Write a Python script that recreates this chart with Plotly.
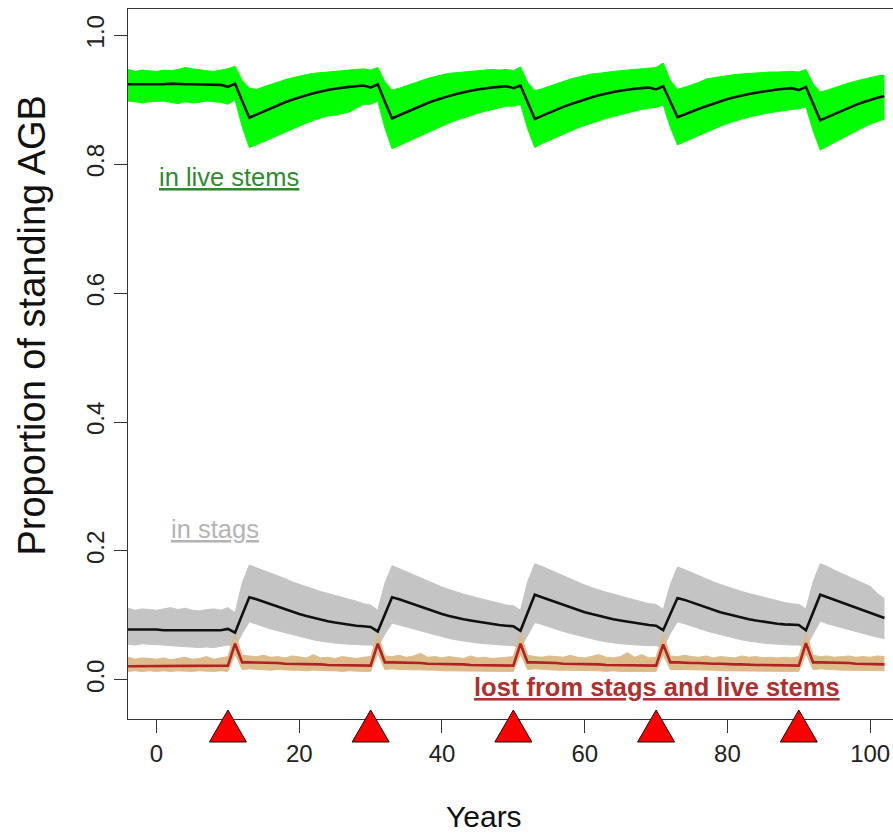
import plotly.graph_objects as go

# Simulation years (annual steps, including a short spin-up before year 0)
YEARS = list(range(-5, 103))

# Disturbance events (years)
EVENT_YEARS = [10, 30, 50, 70, 90]

# Share of standing AGB held in live stems: ensemble mean and ensemble envelope
LIVE_MEAN = [
    0.924, 0.924, 0.923, 0.924, 0.924,
    0.924, 0.924, 0.925, 0.924, 0.924, 0.924, 0.924, 0.924, 0.923, 0.923,
    0.920, 0.925, 0.898, 0.872, 0.877, 0.882, 0.887, 0.892, 0.896, 0.900,
    0.904, 0.907, 0.910, 0.913, 0.915, 0.917, 0.919, 0.920, 0.921, 0.922,
    0.919, 0.924, 0.897, 0.871, 0.876, 0.881, 0.886, 0.891, 0.895, 0.899,
    0.903, 0.906, 0.909, 0.912, 0.914, 0.916, 0.918, 0.919, 0.920, 0.921,
    0.918, 0.922, 0.896, 0.870, 0.875, 0.880, 0.885, 0.889, 0.893, 0.897,
    0.901, 0.904, 0.907, 0.910, 0.912, 0.914, 0.916, 0.917, 0.918, 0.919,
    0.916, 0.921, 0.897, 0.873, 0.877, 0.882, 0.886, 0.890, 0.894, 0.898,
    0.901, 0.904, 0.907, 0.909, 0.911, 0.913, 0.915, 0.916, 0.917, 0.918,
    0.915, 0.920, 0.894, 0.868, 0.873, 0.878, 0.883, 0.888, 0.892, 0.896,
    0.900, 0.903, 0.906,
]
LIVE_HI = [
    0.945, 0.947, 0.944, 0.946, 0.945,
    0.944, 0.946, 0.945, 0.947, 0.950, 0.948, 0.946, 0.945, 0.944, 0.946,
    0.948, 0.952, 0.930, 0.918, 0.916, 0.920, 0.924, 0.928, 0.931, 0.934,
    0.937, 0.939, 0.941, 0.942, 0.944, 0.945, 0.946, 0.946, 0.947, 0.948,
    0.946, 0.950, 0.928, 0.915, 0.918, 0.922, 0.926, 0.930, 0.933, 0.936,
    0.939, 0.941, 0.942, 0.943, 0.944, 0.945, 0.946, 0.947, 0.946, 0.947,
    0.945, 0.951, 0.927, 0.914, 0.917, 0.921, 0.925, 0.929, 0.932, 0.935,
    0.938, 0.940, 0.941, 0.943, 0.944, 0.945, 0.946, 0.946, 0.947, 0.948,
    0.950, 0.957, 0.930, 0.916, 0.919, 0.923, 0.927, 0.932, 0.934, 0.936,
    0.938, 0.939, 0.940, 0.941, 0.942, 0.942, 0.943, 0.943, 0.944, 0.944,
    0.943, 0.947, 0.925, 0.912, 0.915, 0.919, 0.923, 0.926, 0.929, 0.932,
    0.935, 0.937, 0.938,
]
LIVE_LO = [
    0.896, 0.898, 0.897, 0.895, 0.897,
    0.897, 0.898, 0.896, 0.894, 0.897, 0.895, 0.896, 0.898, 0.897, 0.896,
    0.893, 0.900, 0.858, 0.826, 0.830, 0.835, 0.840, 0.845, 0.850, 0.855,
    0.860, 0.864, 0.868, 0.872, 0.875, 0.876, 0.878, 0.881, 0.887, 0.893,
    0.893, 0.898, 0.856, 0.824, 0.829, 0.834, 0.840, 0.845, 0.850, 0.855,
    0.860, 0.864, 0.868, 0.872, 0.876, 0.879, 0.882, 0.885, 0.888, 0.890,
    0.890, 0.893, 0.855, 0.826, 0.832, 0.837, 0.842, 0.846, 0.851, 0.856,
    0.860, 0.864, 0.868, 0.871, 0.874, 0.877, 0.880, 0.883, 0.885, 0.887,
    0.888, 0.892, 0.857, 0.830, 0.835, 0.840, 0.845, 0.850, 0.855, 0.859,
    0.863, 0.867, 0.870, 0.873, 0.876, 0.878, 0.880, 0.882, 0.884, 0.885,
    0.886, 0.889, 0.852, 0.822, 0.828, 0.834, 0.840, 0.846, 0.852, 0.857,
    0.862, 0.866, 0.870,
]

# Share held in standing dead stems (stags)
STAG_MEAN = [
    0.078, 0.078, 0.079, 0.078, 0.078,
    0.078, 0.077, 0.077, 0.076, 0.076, 0.076, 0.076, 0.076, 0.077, 0.077,
    0.079, 0.073, 0.101, 0.128, 0.125, 0.121, 0.117, 0.113, 0.109, 0.105,
    0.102, 0.099, 0.096, 0.093, 0.091, 0.089, 0.087, 0.085, 0.084, 0.083,
    0.082, 0.075, 0.101, 0.128, 0.125, 0.121, 0.117, 0.113, 0.109, 0.105,
    0.102, 0.099, 0.096, 0.094, 0.092, 0.090, 0.088, 0.086, 0.085, 0.084,
    0.083, 0.076, 0.104, 0.132, 0.128, 0.124, 0.120, 0.116, 0.112, 0.108,
    0.105, 0.102, 0.099, 0.096, 0.094, 0.092, 0.090, 0.088, 0.086, 0.085,
    0.084, 0.077, 0.102, 0.127, 0.124, 0.120, 0.116, 0.112, 0.108, 0.105,
    0.102, 0.099, 0.096, 0.094, 0.092, 0.090, 0.088, 0.087, 0.086, 0.085,
    0.085, 0.077, 0.104, 0.132, 0.128, 0.124, 0.119, 0.115, 0.111, 0.107,
    0.103, 0.099, 0.096,
]
STAG_HI = [
    0.109, 0.111, 0.108, 0.110, 0.109,
    0.108, 0.110, 0.112, 0.109, 0.111, 0.108, 0.107, 0.109, 0.110, 0.108,
    0.112, 0.104, 0.150, 0.178, 0.174, 0.170, 0.166, 0.161, 0.157, 0.152,
    0.148, 0.144, 0.140, 0.137, 0.134, 0.131, 0.128, 0.126, 0.122, 0.118,
    0.116, 0.108, 0.150, 0.177, 0.173, 0.168, 0.163, 0.158, 0.153, 0.148,
    0.144, 0.140, 0.136, 0.133, 0.130, 0.127, 0.124, 0.121, 0.118, 0.116,
    0.115, 0.108, 0.152, 0.180, 0.176, 0.171, 0.166, 0.161, 0.156, 0.151,
    0.147, 0.143, 0.139, 0.136, 0.133, 0.130, 0.127, 0.124, 0.121, 0.118,
    0.117, 0.109, 0.148, 0.175, 0.171, 0.166, 0.161, 0.156, 0.152, 0.148,
    0.144, 0.140, 0.137, 0.134, 0.131, 0.128, 0.125, 0.122, 0.120, 0.118,
    0.117, 0.110, 0.152, 0.180, 0.176, 0.170, 0.165, 0.160, 0.155, 0.150,
    0.145, 0.134, 0.126,
]
STAG_LO = [
    0.054, 0.055, 0.054, 0.056, 0.055,
    0.055, 0.054, 0.053, 0.052, 0.051, 0.050, 0.050, 0.051, 0.050, 0.052,
    0.054, 0.050, 0.072, 0.090, 0.086, 0.083, 0.079, 0.076, 0.073, 0.070,
    0.067, 0.065, 0.062, 0.060, 0.058, 0.057, 0.056, 0.055, 0.054, 0.054,
    0.054, 0.050, 0.071, 0.088, 0.085, 0.082, 0.078, 0.075, 0.072, 0.069,
    0.066, 0.064, 0.062, 0.060, 0.058, 0.057, 0.056, 0.055, 0.054, 0.053,
    0.053, 0.049, 0.070, 0.089, 0.086, 0.082, 0.079, 0.075, 0.072, 0.069,
    0.066, 0.063, 0.061, 0.059, 0.057, 0.056, 0.055, 0.054, 0.053, 0.053,
    0.053, 0.050, 0.072, 0.090, 0.087, 0.083, 0.080, 0.076, 0.073, 0.070,
    0.067, 0.064, 0.062, 0.060, 0.058, 0.057, 0.056, 0.055, 0.055, 0.054,
    0.054, 0.050, 0.071, 0.091, 0.087, 0.084, 0.080, 0.077, 0.074, 0.071,
    0.068, 0.066, 0.064,
]

# Share lost from stags and live stems
LOST_MEAN = [
    0.021, 0.021, 0.021, 0.021, 0.021,
    0.021, 0.021, 0.021, 0.021, 0.021, 0.021, 0.021, 0.021, 0.021, 0.021,
    0.022, 0.056, 0.027, 0.027, 0.027, 0.026, 0.026, 0.026, 0.025, 0.025,
    0.025, 0.024, 0.024, 0.024, 0.023, 0.023, 0.023, 0.023, 0.022, 0.022,
    0.022, 0.056, 0.027, 0.027, 0.027, 0.026, 0.026, 0.026, 0.025, 0.025,
    0.025, 0.024, 0.024, 0.024, 0.023, 0.023, 0.023, 0.023, 0.022, 0.022,
    0.022, 0.056, 0.027, 0.027, 0.027, 0.026, 0.026, 0.025, 0.025, 0.025,
    0.024, 0.024, 0.024, 0.023, 0.023, 0.023, 0.022, 0.022, 0.022, 0.022,
    0.022, 0.055, 0.027, 0.027, 0.026, 0.026, 0.026, 0.025, 0.025, 0.025,
    0.024, 0.024, 0.024, 0.023, 0.023, 0.023, 0.023, 0.022, 0.022, 0.022,
    0.022, 0.057, 0.027, 0.027, 0.027, 0.026, 0.026, 0.026, 0.025, 0.025,
    0.025, 0.024, 0.024,
]
LOST_HI = [
    0.033, 0.035, 0.032, 0.034, 0.033,
    0.032, 0.034, 0.031, 0.033, 0.035, 0.032, 0.033, 0.036, 0.032, 0.034,
    0.036, 0.072, 0.038, 0.037, 0.036, 0.038, 0.035, 0.036, 0.034, 0.037,
    0.035, 0.034, 0.039, 0.034, 0.035, 0.033, 0.036, 0.034, 0.033, 0.035,
    0.036, 0.071, 0.037, 0.036, 0.038, 0.035, 0.037, 0.041, 0.035, 0.036,
    0.034, 0.036, 0.035, 0.033, 0.037, 0.034, 0.035, 0.033, 0.034, 0.035,
    0.036, 0.072, 0.038, 0.036, 0.035, 0.037, 0.036, 0.035, 0.038, 0.035,
    0.034, 0.036, 0.039, 0.035, 0.034, 0.036, 0.042, 0.035, 0.039, 0.034,
    0.035, 0.071, 0.037, 0.036, 0.038, 0.036, 0.035, 0.037, 0.034, 0.036,
    0.035, 0.034, 0.037, 0.035, 0.036, 0.034, 0.035, 0.034, 0.035, 0.034,
    0.036, 0.073, 0.038, 0.036, 0.037, 0.035, 0.036, 0.037, 0.035, 0.036,
    0.035, 0.037, 0.036,
]
LOST_LO = [
    0.014, 0.013, 0.014, 0.013, 0.014,
    0.013, 0.014, 0.013, 0.014, 0.013, 0.013, 0.014, 0.013, 0.013, 0.014,
    0.013, 0.040, 0.016, 0.017, 0.016, 0.016, 0.015, 0.016, 0.015, 0.015,
    0.015, 0.014, 0.015, 0.014, 0.014, 0.014, 0.013, 0.014, 0.013, 0.013,
    0.013, 0.041, 0.016, 0.017, 0.016, 0.016, 0.015, 0.015, 0.015, 0.015,
    0.014, 0.014, 0.014, 0.014, 0.013, 0.014, 0.013, 0.013, 0.013, 0.013,
    0.013, 0.040, 0.016, 0.017, 0.016, 0.016, 0.015, 0.015, 0.015, 0.014,
    0.014, 0.014, 0.014, 0.013, 0.014, 0.013, 0.013, 0.013, 0.013, 0.013,
    0.013, 0.039, 0.016, 0.016, 0.016, 0.015, 0.015, 0.015, 0.015, 0.014,
    0.014, 0.014, 0.014, 0.013, 0.013, 0.013, 0.013, 0.013, 0.013, 0.013,
    0.013, 0.041, 0.016, 0.017, 0.016, 0.016, 0.015, 0.015, 0.015, 0.014,
    0.014, 0.014, 0.014,
]

X_TICKS = [0, 20, 40, 60, 80, 100]
Y_TICKS = [0.0, 0.2, 0.4, 0.6, 0.8, 1.0]
Y_TICK_LABELS = ["0.0", "0.2", "0.4", "0.6", "0.8", "1.0"]

FONT = "Liberation Sans, Arial, Helvetica, sans-serif"
AXIS_COL = "#333333"

fig = go.Figure()


def add_band(lo, hi, colour):
    fig.add_trace(go.Scatter(x=YEARS, y=lo, mode="lines",
                             line=dict(color=colour, width=1),
                             hoverinfo="skip"))
    fig.add_trace(go.Scatter(x=YEARS, y=hi, mode="lines",
                             line=dict(color=colour, width=1),
                             fill="tonexty", fillcolor=colour,
                             hoverinfo="skip"))


add_band(LIVE_LO, LIVE_HI, "#00FF00")
add_band(STAG_LO, STAG_HI, "#C4C4C4")
add_band(LOST_LO, LOST_HI, "#DDBB8A")

fig.add_trace(go.Scatter(x=YEARS, y=LIVE_MEAN, mode="lines",
                         line=dict(color="#111111", width=2.6)))
fig.add_trace(go.Scatter(x=YEARS, y=STAG_MEAN, mode="lines",
                         line=dict(color="#111111", width=2.6)))
fig.add_trace(go.Scatter(x=YEARS, y=LOST_MEAN, mode="lines",
                         line=dict(color="#B22222", width=2.6)))

# Red triangles marking disturbance events, sitting on the x axis
for ev in EVENT_YEARS:
    fig.add_shape(type="path", xref="x", yref="paper",
                  xsizemode="pixel", ysizemode="pixel",
                  xanchor=ev, yanchor=0,
                  path="M -18.5,-23 L 18.5,-23 L 0,9 Z",
                  fillcolor="#FF0000", line=dict(color="#111111", width=1),
                  layer="above")

annotations = [
    dict(x=0, y=0.780, xref="x", yref="y", xanchor="left", yanchor="middle",
         text="<u>in live stems</u>", showarrow=False,
         font=dict(family=FONT, size=25.5, color="#2E8B2E")),
    dict(x=1.8, y=0.234, xref="x", yref="y", xanchor="left", yanchor="middle",
         text="<u>in stags</u>", showarrow=False,
         font=dict(family=FONT, size=25.5, color="#B4B4B4")),
    dict(x=44.2, y=-0.011, xref="x", yref="y", xanchor="left", yanchor="middle",
         text="<u><b>lost from stags and live stems</b></u>", showarrow=False,
         font=dict(family=FONT, size=25.5, color="#B0302F")),
    dict(x=-0.126, y=0.555, xref="paper", yref="paper", xanchor="center",
         yanchor="middle", textangle=-90, text="Proportion of standing AGB",
         showarrow=False, font=dict(family=FONT, size=38, color="#111111")),
    dict(x=0.465, y=-0.138, xref="paper", yref="paper", xanchor="center",
         yanchor="middle", text="Years", showarrow=False,
         font=dict(family=FONT, size=30, color="#111111")),
]

fig.update_layout(
    width=893, height=835,
    margin=dict(l=128, r=0, t=9, b=116),
    paper_bgcolor="white", plot_bgcolor="white",
    showlegend=False,
    annotations=annotations,
    xaxis=dict(range=[-4, 103.2], tickvals=X_TICKS, ticks="outside",
               ticklen=13, tickwidth=1, tickcolor=AXIS_COL,
               showline=True, linecolor=AXIS_COL, linewidth=1.2, mirror=True,
               showgrid=False, zeroline=False,
               tickfont=dict(family=FONT, size=24, color="#222222")),
    yaxis=dict(range=[-0.0608, 1.0408], tickvals=Y_TICKS, ticktext=Y_TICK_LABELS,
               tickangle=-90, ticks="outside", ticklen=13, tickwidth=1,
               tickcolor=AXIS_COL, showline=True, linecolor=AXIS_COL,
               linewidth=1.2, mirror=False, showgrid=False, zeroline=False,
               tickfont=dict(family=FONT, size=24, color="#222222")),
)

fig.write_html("out.html")
